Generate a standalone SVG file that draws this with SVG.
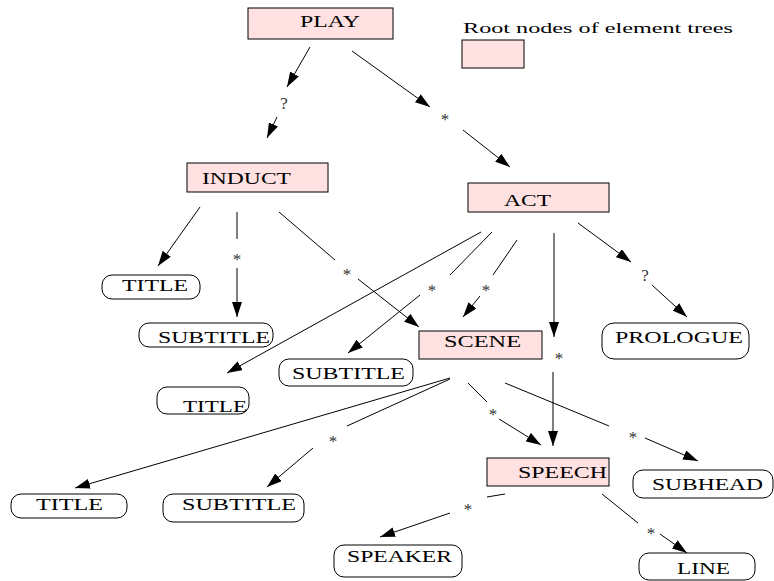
<svg xmlns="http://www.w3.org/2000/svg" width="774" height="581" viewBox="0 0 774 581">
<style>
.root{fill:#ffe1e1;stroke:#000;stroke-width:1}
.leaf{fill:#fff;stroke:#000;stroke-width:1}
.t{font-family:"Liberation Serif","Times New Roman",serif;font-size:17.5px;fill:#000}
.lg{font-family:"Liberation Serif","Times New Roman",serif;font-size:15px;fill:#000}
.lb{font-family:"Liberation Serif","Times New Roman",serif;font-size:17px;fill:#333;text-anchor:middle}
.c line{stroke:#000;stroke-width:1}
.a{marker-end:url(#ah)}
</style>
<defs>
<marker id="ah" markerUnits="userSpaceOnUse" markerWidth="15" markerHeight="10" refX="15" refY="5" orient="auto">
<path d="M0,0 L15,5 L0,10 z" fill="#000"/>
</marker>
</defs>
<rect width="774" height="581" fill="#fff"/>
<g id="legend">
<text class="lg" x="463" y="33" textLength="270" lengthAdjust="spacingAndGlyphs">Root nodes of element trees</text>
<rect class="root" x="462" y="40" width="62" height="28"/>
</g>
<g class="c" id="connectors">
<line class="a" x1="310" y1="47" x2="287" y2="87"/>
<line class="a" x1="277" y1="117" x2="267" y2="138"/>
<line class="a" x1="352" y1="51" x2="430" y2="107"/>
<line class="a" x1="463" y1="130" x2="510" y2="167"/>
<line class="a" x1="200" y1="207" x2="158" y2="266"/>
<line x1="237" y1="212" x2="237" y2="239"/>
<line class="a" x1="237" y1="268" x2="237" y2="317"/>
<line x1="279" y1="212" x2="335" y2="260"/>
<line class="a" x1="358" y1="279" x2="419" y2="327"/>
<line class="a" x1="481" y1="232" x2="227" y2="373"/>
<line x1="492" y1="232" x2="450" y2="275"/>
<line class="a" x1="420" y1="295" x2="348" y2="353"/>
<line x1="517" y1="240" x2="493" y2="275"/>
<line class="a" x1="480" y1="296" x2="463" y2="317"/>
<line class="a" x1="554" y1="233" x2="554" y2="337"/>
<line class="a" x1="553" y1="372" x2="553" y2="446"/>
<line class="a" x1="578" y1="223" x2="631" y2="262"/>
<line class="a" x1="652" y1="285" x2="687" y2="317"/>
<line class="a" x1="450" y1="378" x2="75" y2="488"/>
<line x1="450" y1="379" x2="347" y2="426"/>
<line class="a" x1="313" y1="448" x2="267" y2="487"/>
<line x1="468" y1="383" x2="487" y2="402"/>
<line class="a" x1="499" y1="419" x2="541" y2="445"/>
<line x1="505" y1="383" x2="609" y2="426"/>
<line class="a" x1="645" y1="438" x2="698" y2="461"/>
<line x1="505" y1="494" x2="487" y2="497"/>
<line class="a" x1="450" y1="513" x2="380" y2="537"/>
<line x1="602" y1="494" x2="638" y2="523"/>
<line class="a" x1="660" y1="534" x2="687" y2="553"/>
<text class="lb" x="284" y="109">?</text>
<text class="lb" x="445" y="125">*</text>
<text class="lb" x="237" y="265">*</text>
<text class="lb" x="347" y="280">*</text>
<text class="lb" x="432" y="296">*</text>
<text class="lb" x="486" y="296">*</text>
<text class="lb" x="645" y="281">?</text>
<text class="lb" x="559" y="364">*</text>
<text class="lb" x="333" y="447">*</text>
<text class="lb" x="493" y="420">*</text>
<text class="lb" x="633" y="443">*</text>
<text class="lb" x="468" y="515">*</text>
<text class="lb" x="651" y="539">*</text>
</g>
<g id="play"><rect class="root" x="248" y="8" width="145" height="31"/><text class="t" x="300" y="27" textLength="60" lengthAdjust="spacingAndGlyphs">PLAY</text></g>
<g id="induct"><rect class="root" x="187" y="163" width="141" height="29"/><text class="t" x="202" y="184" textLength="89" lengthAdjust="spacingAndGlyphs">INDUCT</text></g>
<g id="act"><rect class="root" x="468" y="183" width="141" height="29"/><text class="t" x="504" y="206" textLength="47" lengthAdjust="spacingAndGlyphs">ACT</text></g>
<g id="scene"><rect class="root" x="419" y="331" width="123" height="28"/><text class="t" x="444" y="347" textLength="77" lengthAdjust="spacingAndGlyphs">SCENE</text></g>
<g id="speech"><rect class="root" x="487" y="458" width="122" height="28"/><text class="t" x="518" y="478" textLength="89" lengthAdjust="spacingAndGlyphs">SPEECH</text></g>
<g id="title1"><rect class="leaf" x="102" y="275" width="98" height="24" rx="10"/><text class="t" x="122" y="291" textLength="66" lengthAdjust="spacingAndGlyphs">TITLE</text></g>
<g id="subtitle1"><rect class="leaf" x="139" y="323" width="134" height="24" rx="10"/><text class="t" x="158" y="343" textLength="112" lengthAdjust="spacingAndGlyphs">SUBTITLE</text></g>
<g id="subtitle2"><rect class="leaf" x="279" y="359" width="134" height="27" rx="10"/><text class="t" x="292" y="379" textLength="113" lengthAdjust="spacingAndGlyphs">SUBTITLE</text></g>
<g id="title2"><rect class="leaf" x="157" y="387" width="92" height="27" rx="10"/><text class="t" x="183" y="412" textLength="64" lengthAdjust="spacingAndGlyphs">TITLE</text></g>
<g id="prologue"><rect class="leaf" x="602" y="323" width="147" height="36" rx="12"/><text class="t" x="615" y="343" textLength="128" lengthAdjust="spacingAndGlyphs">PROLOGUE</text></g>
<g id="title3"><rect class="leaf" x="11" y="494" width="116" height="24" rx="10"/><text class="t" x="36" y="510" textLength="67" lengthAdjust="spacingAndGlyphs">TITLE</text></g>
<g id="subtitle3"><rect class="leaf" x="163" y="494" width="141" height="28" rx="10"/><text class="t" x="182" y="510" textLength="114" lengthAdjust="spacingAndGlyphs">SUBTITLE</text></g>
<g id="subhead"><rect class="leaf" x="633" y="470" width="140" height="28" rx="10"/><text class="t" x="652" y="490" textLength="111" lengthAdjust="spacingAndGlyphs">SUBHEAD</text></g>
<g id="speaker"><rect class="leaf" x="334" y="545" width="128" height="32" rx="10"/><text class="t" x="347" y="562" textLength="105" lengthAdjust="spacingAndGlyphs">SPEAKER</text></g>
<g id="line"><rect class="leaf" x="639" y="553" width="116" height="27" rx="10"/><text class="t" x="677" y="574" textLength="53" lengthAdjust="spacingAndGlyphs">LINE</text></g>
</svg>
